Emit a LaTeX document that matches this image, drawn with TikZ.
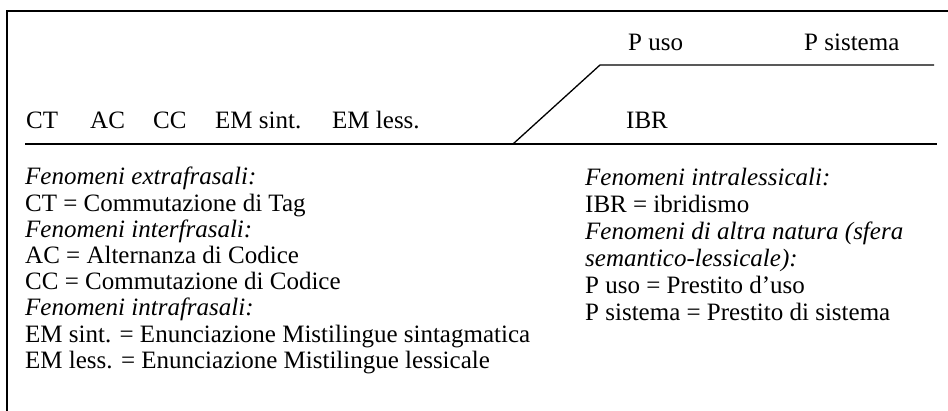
\documentclass[tikz,border=0pt]{standalone}
\usepackage{fontspec}
\setmainfont{Liberation Serif}
\begin{document}
\begin{tikzpicture}[x=1pt,y=-1pt,
  lbl/.style={anchor=base west,inner sep=0pt,font=\fontsize{25}{26.5}\selectfont},
  ilbl/.style={lbl,font=\fontsize{25}{26.5}\selectfont\itshape},
  rule/.style={line width=1.3pt,black}]
\useasboundingbox (0,0) rectangle (948,411);
% frame
\draw[rule] (7,411) -- (7,11) -- (948,11);
% top diagram lines
\coordinate (b0) at (25,144);
\coordinate (b1) at (513,144);
\coordinate (u0) at (600,65);
\coordinate (u1) at (934,65);
\coordinate (b2) at (937,144);
\draw[rule] (b0) -- (b1) -- (b2);
\draw[rule] (b1) -- (u0) -- (u1);
% top labels
\node[lbl] (ct) at (26,129) {CT};
\node[lbl] (ac) at (90,129) {AC};
\node[lbl] (cc) at (153,129) {CC};
\node[lbl] (ems) at (215,129) {EM sint.};
\node[lbl] (eml) at (332,129) {EM less.};
\node[lbl] (ibr) at (626,129) {IBR};
\node[lbl] (puso) at (628,51) {P uso};
\node[lbl] (psis) at (804,51) {P sistema};
% left legend
\node[ilbl] (l1) at (25,185) {Fenomeni extrafrasali:};
\node[lbl]  (l2) at (25,211.2) {CT = Commutazione di Tag};
\node[ilbl] (l3) at (25,237.4) {Fenomeni interfrasali:};
\node[lbl]  (l4) at (25,263.6) {AC = Alternanza di Codice};
\node[lbl]  (l5) at (25,289.8) {CC = Commutazione di Codice};
\node[ilbl] (l6) at (25,316) {Fenomeni intrafrasali:};
\node[lbl]  (l7) at (25,342.2) {EM sint. = Enunciazione Mistilingue sintagmatica};
\node[lbl]  (l8) at (25,368.4) {EM less. = Enunciazione Mistilingue lessicale};
% right legend
\node[ilbl] (r1) at (585,186) {Fenomeni intralessicali:};
\node[lbl]  (r2) at (585,213) {IBR = ibridismo};
\node[ilbl] (r3) at (585,240) {Fenomeni di altra natura (sfera};
\node[ilbl] (r4) at (585,267) {semantico-lessicale):};
\node[lbl]  (r5) at (585,294) {P uso = Prestito d’uso};
\node[lbl]  (r6) at (585,321) {P sistema = Prestito di sistema};
\end{tikzpicture}
\end{document}
